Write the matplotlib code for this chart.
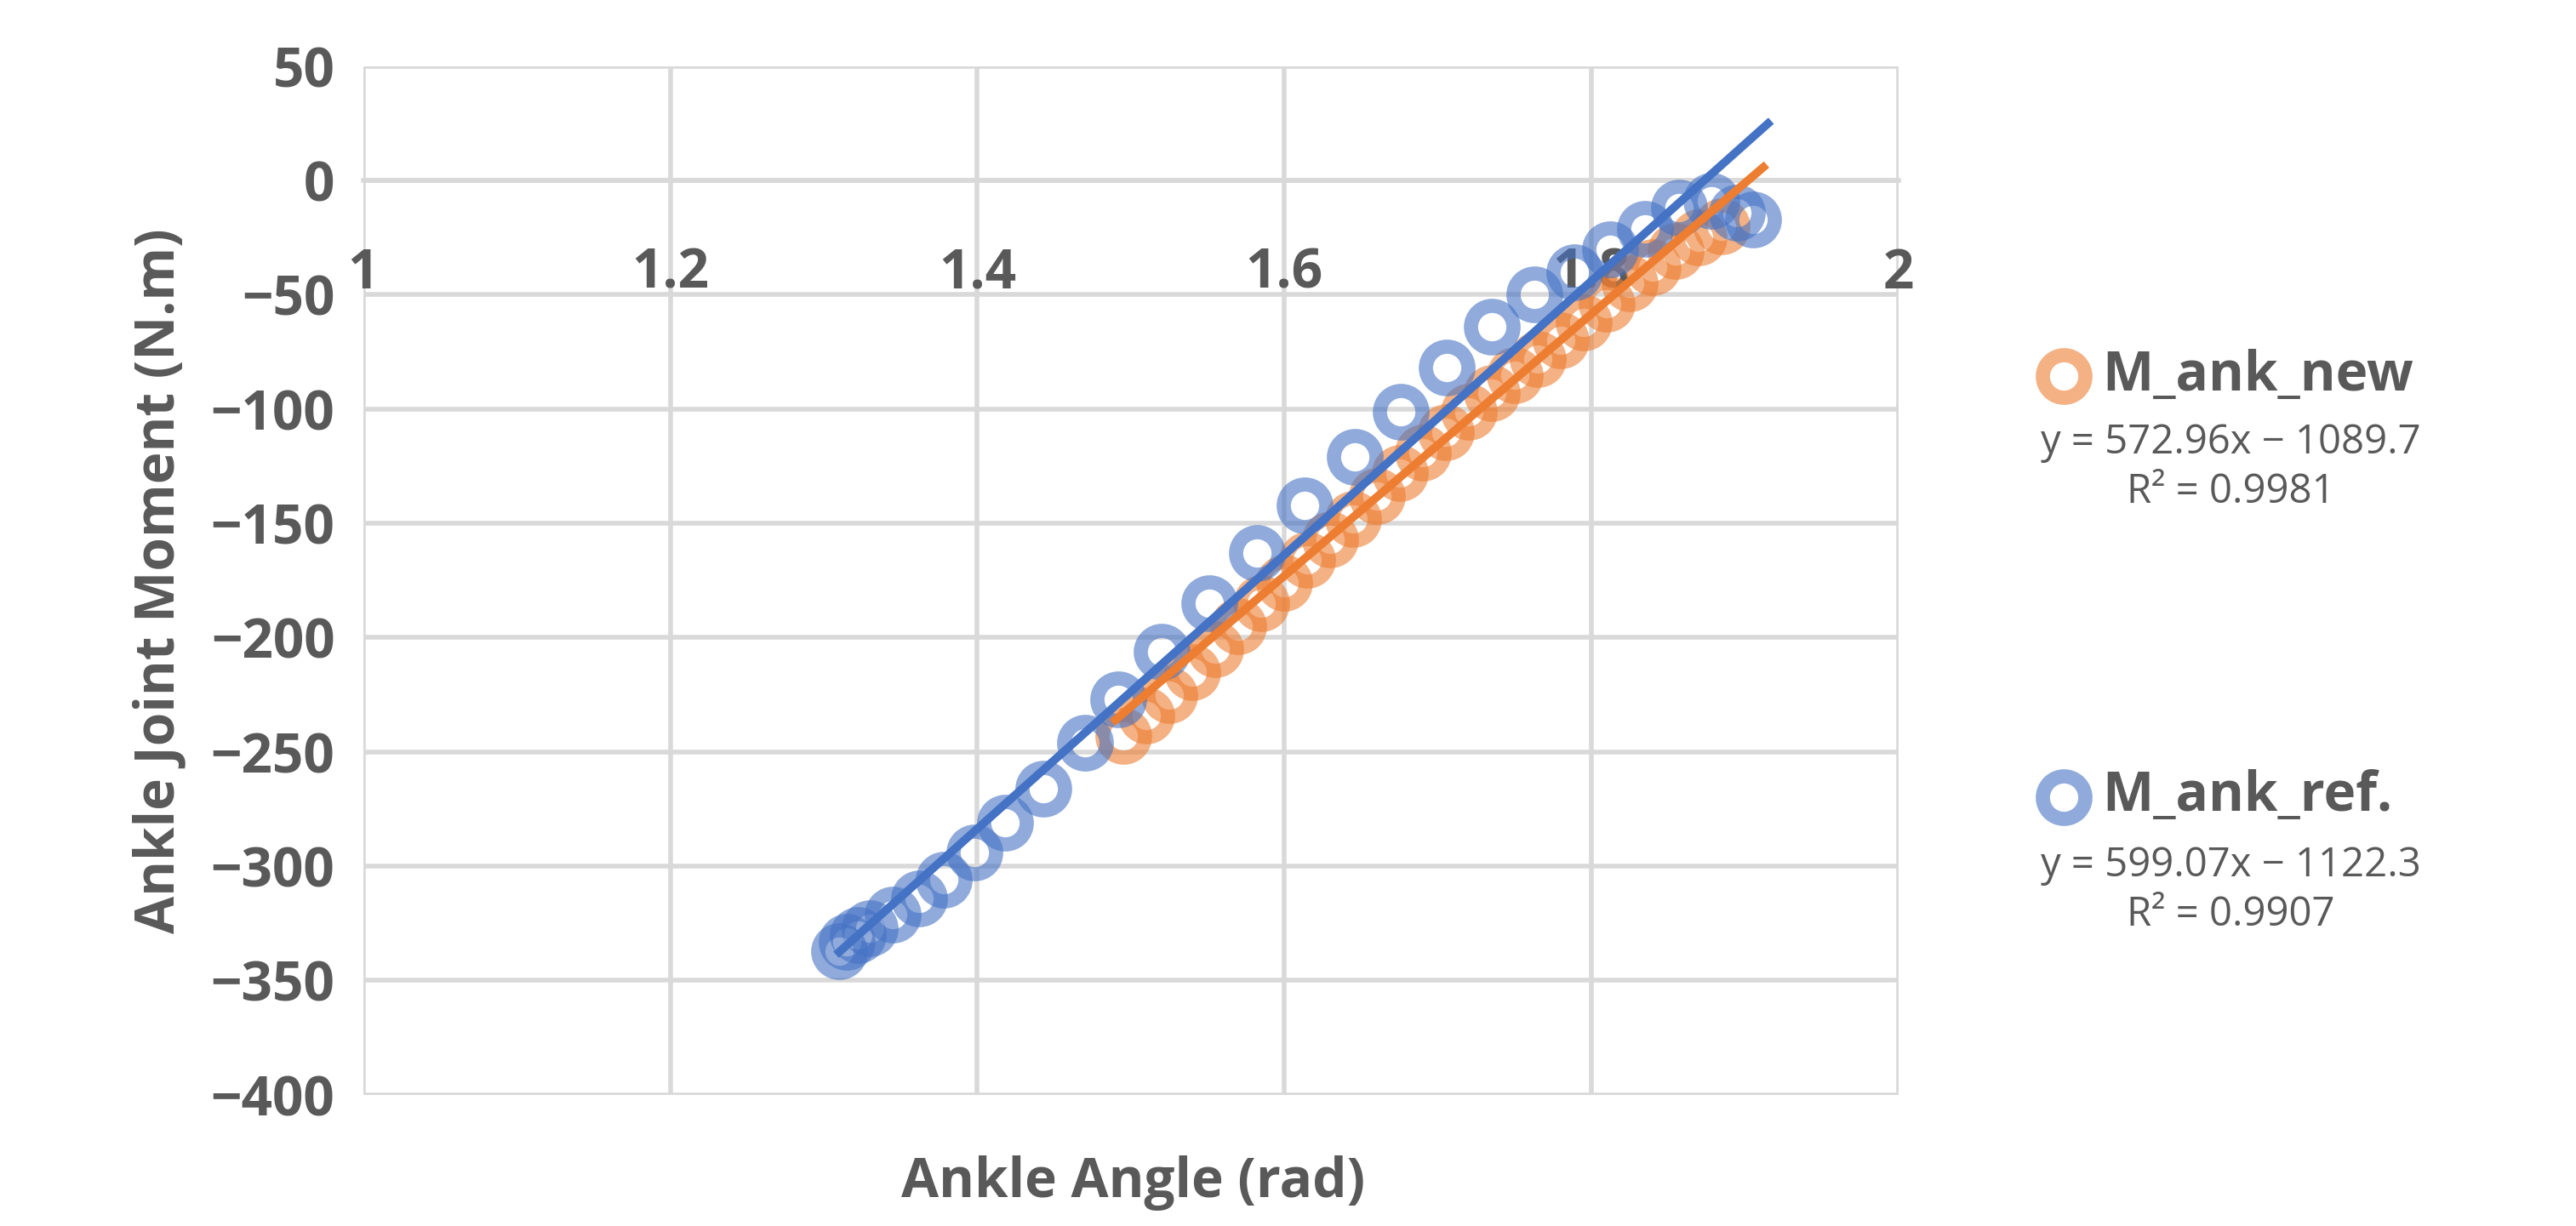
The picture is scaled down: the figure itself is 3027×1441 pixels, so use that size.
import numpy as np
import matplotlib
matplotlib.use("Agg")
import matplotlib.pyplot as plt

plt.rcParams["font.family"] = ["Open Sans", "DejaVu Sans"]

# ── data ──────────────────────────────────────────────────────────────────────
ref_x = [1.310, 1.315, 1.322, 1.330, 1.345, 1.362, 1.378, 1.398, 1.418, 1.443,
         1.470, 1.492, 1.520, 1.551, 1.582, 1.613, 1.646, 1.676, 1.706, 1.735,
         1.763, 1.789, 1.812, 1.835, 1.857, 1.878, 1.895, 1.905]
ref_y = [-337, -333, -330, -327, -321, -314, -306, -294, -281, -266,
         -246, -227, -206, -185, -163, -142, -121, -101, -82, -64,
         -50, -40, -30, -21, -12, -9, -14, -17]

new_x = [1.495, 1.510, 1.525, 1.540, 1.555, 1.570, 1.585, 1.600, 1.615, 1.630,
         1.645, 1.660, 1.675, 1.690, 1.705, 1.720, 1.735, 1.750, 1.765, 1.780,
         1.795, 1.810, 1.825, 1.840, 1.855, 1.870, 1.885]
new_y = [-243, -234, -225, -215, -205, -195, -185, -176, -166, -157,
         -148, -138, -128, -119, -110, -101, -93, -85, -78, -70,
         -62, -54, -45, -38, -31, -25, -20]

new_fit = (572.96, -1089.7, 0.9981)
ref_fit = (599.07, -1122.3, 0.9907)

BLUE = "#4472C4"
ORANGE = "#ED7D31"
GREY = "#595959"

fig = plt.figure(figsize=(15.135, 7.205), dpi=200)
ax = fig.add_axes([0.141, 0.107, 0.596, 0.839])

ax.plot(ref_x, ref_y, "o", ms=18, mfc="none", mec=BLUE, mew=6, alpha=0.6, zorder=3)
ax.plot(new_x, new_y, "o", ms=18, mfc="none", mec=ORANGE, mew=6, alpha=0.6, zorder=2)

xs = np.array([min(ref_x), 1.915])
ax.plot(xs, ref_fit[0] * xs + ref_fit[1], color=BLUE, lw=3.5, zorder=4)
xs = np.array([min(new_x) - 0.005, 1.912])
ax.plot(xs, new_fit[0] * xs + new_fit[1], color=ORANGE, lw=3.5, zorder=4)

ax.set_xlim(1, 2)
ax.set_ylim(-400, 50)
ax.set_xticks([1, 1.2, 1.4, 1.6, 1.8, 2])
ax.set_xticklabels(["1", "1.2", "1.4", "1.6", "1.8", "2"])
ax.set_yticks(range(-400, 51, 50))
ax.set_yticklabels([str(v).replace("-", "\u2212") for v in range(-400, 51, 50)])
ax.grid(True, color="#D9D9D9", lw=2)
ax.set_axisbelow(True)
for s in ["top", "right", "left"]:
    ax.spines[s].set_visible(False)
ax.spines["bottom"].set_position(("data", 0))
ax.spines["bottom"].set_color("#D9D9D9")
ax.spines["bottom"].set_linewidth(2)
ax.tick_params(length=0, labelsize=23, labelcolor=GREY, pad=12)
for t in ax.get_xticklabels() + ax.get_yticklabels():
    t.set_fontweight("bold")
ax.tick_params(axis="x", pad=28)

ax.set_ylabel("Ankle Joint Moment (N.m)", fontsize=23, fontweight="bold", color=GREY, labelpad=10)
fig.text(0.44, 0.035, "Ankle Angle (rad)", fontsize=23, fontweight="bold",
         color=GREY, ha="center", va="center")

# legend with equations
def entry(y, eq_y, color, name, fit):
    fig.lines.append(plt.Line2D([0.801], [y], transform=fig.transFigure, marker="o",
                                ms=18, mfc="none", mec=color, mew=6, alpha=0.6))
    fig.text(0.816, y, name, fontsize=23, fontweight="bold", color=GREY, va="center")
    sign = "\u2212" if fit[1] < 0 else "+"
    fig.text(0.866, eq_y, f"y = {fit[0]:.2f}x {sign} {abs(fit[1]):.1f}\nR² = {fit[2]:.4f}",
             fontsize=17, color=GREY, ha="center", va="center", linespacing=1.3)

entry(0.693, 0.619, ORANGE, "M_ank_new", new_fit)
entry(0.350, 0.274, BLUE, "M_ank_ref.", ref_fit)

fig.savefig("out.png", dpi=200, facecolor="white")
